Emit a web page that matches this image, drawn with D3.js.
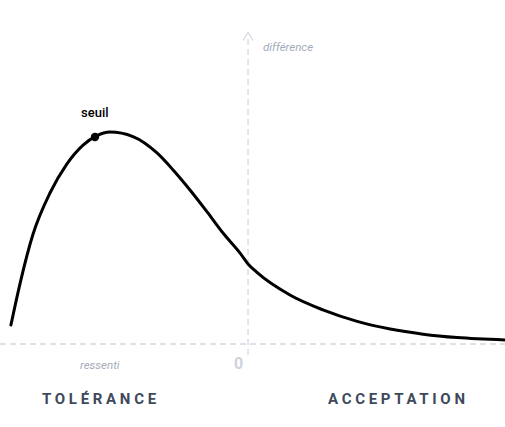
<!DOCTYPE html>
<html><head><meta charset="utf-8">
<script src="https://cdn.jsdelivr.net/npm/d3@7"></script>
<style>body{margin:0;background:#fff}svg{display:block}</style>
</head><body>
<svg id="c" width="505" height="427"></svg>
<script>
// data: x = ressenti (0 at vertical axis), y = différence
const curveX = [-95.6,-91.9,-86.7,-79.8,-73.0,-66.5,-61.3,-55.6,-46.4,-36.7,-30.2,-23.4,-16.5,-10.1,-3.2,0,3.6,16.9,30.2,44.0,57.3,70.6,84.3,103.6];
const curveY = [8.9,28.5,51.5,71.0,84.6,93.4,97.6,99.5,97.4,89.7,81.7,72.3,62.0,52.1,42.7,37.6,33.6,23.0,16.0,10.6,7.0,4.6,3.0,1.9];
const seuil = {x:-61.3, y:97.2, label:"seuil"};
const zoneLabels = ["TOLÉRANCE","ACCEPTATION"];
const axisLabels = {x:"ressenti", y:"différence", origin:"0"};

const svg = d3.select("#c");
const x = d3.scaleLinear().domain([-100,103.6]).range([0,505]);
const y = d3.scaleLinear().domain([0,100]).range([344,131]);
const axisCol = "#d3d8e0";

// horizontal axis
svg.append("line").attr("x1",0).attr("x2",505).attr("y1",y(0)).attr("y2",y(0))
  .attr("stroke",axisCol).attr("stroke-width",1.3).attr("stroke-dasharray","6,4");
// vertical axis
svg.append("line").attr("x1",x(0)).attr("x2",x(0)).attr("y1",y(-5.2)).attr("y2",y(145))
  .attr("stroke",axisCol).attr("stroke-width",1.3).attr("stroke-dasharray","6,4");
svg.append("path").attr("d",`M${x(0)-5},${y(142.5)} L${x(0)},${y(146.3)} L${x(0)+5},${y(142.5)}`)
  .attr("fill","none").attr("stroke",axisCol).attr("stroke-width",1.3);

svg.append("text").attr("x",x(0)+15).attr("y",51).text(axisLabels.y)
  .attr("font-family","Roboto").attr("font-style","italic").attr("font-size",11.5).attr("fill","#a3abb8");
svg.append("text").attr("x",80).attr("y",369).text(axisLabels.x)
  .attr("font-family","Roboto").attr("font-style","italic").attr("font-size",11.5).attr("fill","#a3abb8");
svg.append("text").attr("x",x(0)-14).attr("y",369).text(axisLabels.origin)
  .attr("font-family","Roboto").attr("font-weight","bold").attr("font-size",16).attr("fill","#cdd3dc");

// curve
const pts = curveX.map((v,i)=>[v,curveY[i]]);
svg.append("path").datum(pts)
  .attr("d",d3.line().x(d=>x(d[0])).y(d=>y(d[1])).curve(d3.curveMonotoneX))
  .attr("fill","none").attr("stroke","#000").attr("stroke-width",3).attr("stroke-linecap","round");

svg.append("circle").attr("cx",x(seuil.x)-1).attr("cy",y(seuil.y)).attr("r",4.2).attr("fill","#000");
svg.append("text").attr("x",81).attr("y",117).text(seuil.label)
  .attr("font-family","Roboto").attr("font-weight",500).attr("font-size",13).attr("fill","#000");

svg.selectAll("text.zone").data(zoneLabels).join("text").attr("class","zone")
  .attr("x",(d,i)=>i===0?42:328).attr("y",404).text(d=>d)
  .attr("font-family","Roboto").attr("font-weight","bold").attr("font-size",15)
  .attr("letter-spacing",3.7).attr("fill","#3e4a5c");
</script>
</body></html>
